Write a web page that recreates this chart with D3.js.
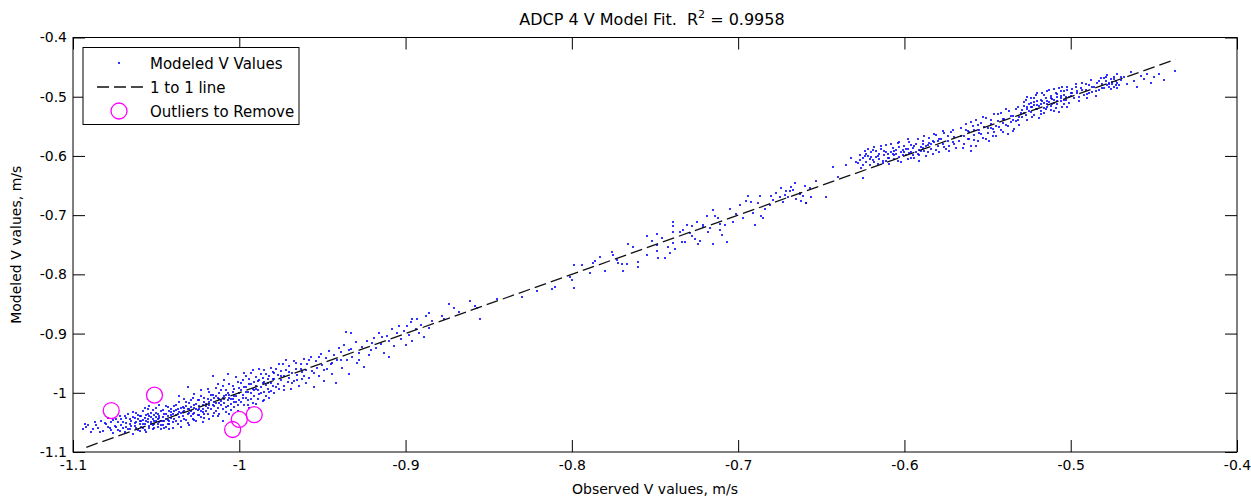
<!DOCTYPE html>
<html><head><meta charset="utf-8">
<script src="https://cdn.jsdelivr.net/npm/d3@7"></script>
<style>body{margin:0;background:#fff}svg{display:block}text{font-family:"DejaVu Sans",sans-serif;fill:#000}</style>
</head><body><svg id="c" width="1251" height="501"></svg>
<script>
const titleText = "ADCP 4 V Model Fit.\u00a0 R";
const titleSup = "2";
const titleTail = " = 0.9958";
const xLabel = "Observed V values, m/s";
const yLabel = "Modeled V values, m/s";
const xTicks = [-1.1,-1,-0.9,-0.8,-0.7,-0.6,-0.5,-0.4];
const yTicks = [-1.1,-1,-0.9,-0.8,-0.7,-0.6,-0.5,-0.4];
const legendLabels = ["Modeled V Values","1 to 1 line","Outliers to Remove"];
const oneToOne = [-1.092,-0.437];
const outliers = [[-1.077,-1.030],[-1.051,-1.004],[-1.000,-1.045],[-1.004,-1.062],[-0.991,-1.037]];
const points = [
[-1.094,-1.061],[-1.091,-1.055],[-1.089,-1.066],[-1.087,-1.050],[-1.085,-1.059],[-1.083,-1.047],[-1.082,-1.064],[-1.080,-1.053],[-1.079,-1.042],[-1.078,-1.060],[-1.077,-1.049],[-1.076,-1.068],[-1.075,-1.056],[-1.093,-1.052],
[-1.074,-1.045],[-1.073,-1.063],[-1.072,-1.039],[-1.071,-1.055],[-1.070,-1.050],[-1.069,-1.067],[-1.068,-1.043],[-1.068,-1.058],[-1.067,-1.036],[-1.066,-1.052],[-1.066,-1.061],[-1.065,-1.047],[-1.064,-1.070],[-1.064,-1.041],[-1.063,-1.056],[-1.062,-1.049],[-1.062,-1.034],[-1.061,-1.063],[-1.061,-1.045],[-1.060,-1.053],[-1.060,-1.039],[-1.059,-1.058],
[-1.059,-1.047],[-1.058,-1.031],[-1.058,-1.060],[-1.057,-1.042],[-1.057,-1.052],[-1.056,-1.037],[-1.056,-1.066],[-1.055,-1.044],[-1.055,-1.028],[-1.054,-1.056],[-1.054,-1.040],[-1.053,-1.049],[-1.053,-1.034],[-1.052,-1.061],[-1.052,-1.045],[-1.051,-1.038],[-1.051,-1.053],[-1.050,-1.025],[-1.050,-1.047],[-1.049,-1.058],[-1.049,-1.036],[-1.048,-1.043],[-1.048,-1.050],[-1.047,-1.030],[-1.047,-1.062],[-1.046,-1.041],[-1.046,-1.054],[-1.045,-1.035],[-1.045,-1.047],[-1.044,-1.022],[-1.044,-1.057],[-1.043,-1.039],[-1.043,-1.046],[-1.042,-1.031],[-1.042,-1.052],[-1.041,-1.043],[-1.041,-1.027],[-1.040,-1.060],[-1.040,-1.036],[-1.053,-1.052],[-1.050,-1.041],[-1.047,-1.048],[-1.044,-1.044],[-1.055,-1.050],[-1.049,-1.045],[-1.046,-1.047],[-1.058,-1.046],[-1.052,-1.055],[-1.043,-1.053],[-1.041,-1.037],
[-1.039,-1.030],[-1.039,-1.045],[-1.038,-1.020],[-1.038,-1.038],[-1.037,-1.052],[-1.037,-1.028],[-1.036,-1.041],[-1.036,-1.015],[-1.035,-1.034],[-1.035,-1.048],[-1.034,-1.024],[-1.034,-1.040],[-1.033,-1.011],[-1.033,-1.031],[-1.032,-1.046],[-1.032,-1.022],[-1.031,-1.036],[-1.031,-1.051],[-1.030,-1.027],[-1.030,-1.017],[-1.029,-1.039],[-1.029,-1.030],[-1.028,-1.008],[-1.028,-1.044],[-1.027,-1.025],[-1.027,-1.034],[-1.026,-1.019],[-1.026,-1.047],[-1.025,-1.029],[-1.025,-1.012],[-1.024,-1.037],[-1.024,-1.022],[-1.023,-1.041],[-1.023,-1.005],[-1.022,-1.027],[-1.022,-1.033],[-1.021,-1.016],[-1.021,-1.043],[-1.020,-1.023],[-1.020,-1.030],[-1.036,-1.033],[-1.033,-1.026],[-1.030,-1.034],[-1.027,-1.021],[-1.024,-1.028],[-1.038,-1.029],[-1.029,-1.024],[-1.022,-1.020],
[-1.019,-1.010],[-1.019,-1.035],[-1.018,-1.020],[-1.018,-0.998],[-1.017,-1.028],[-1.017,-1.013],[-1.016,-1.040],[-1.016,-1.004],[-1.015,-1.022],[-1.015,-1.016],[-1.014,-0.992],[-1.014,-1.031],[-1.013,-1.009],[-1.013,-1.025],[-1.012,-1.001],[-1.012,-1.036],[-1.011,-1.014],[-1.011,-1.020],[-1.010,-0.989],[-1.010,-1.028],[-1.009,-1.006],[-1.009,-1.017],[-1.008,-1.033],[-1.008,-0.996],[-1.007,-1.012],[-1.007,-1.023],[-1.006,-1.003],[-1.006,-0.985],[-1.005,-1.019],[-1.005,-1.029],[-1.004,-0.999],[-1.004,-1.010],[-1.003,-1.024],[-1.003,-0.993],[-1.002,-1.015],[-1.002,-1.006],[-1.001,-0.982],[-1.001,-1.021],[-1.000,-1.001],[-1.000,-1.012],[-1.018,-1.015],[-1.015,-1.008],[-1.012,-1.011],[-1.009,-1.011],[-1.006,-1.009],[-1.003,-1.005],[-1.014,-1.018],[-1.008,-1.004],
[-0.999,-0.995],[-0.999,-1.015],[-0.998,-0.978],[-0.998,-1.004],[-0.997,-1.021],[-0.997,-0.990],[-0.996,-1.009],[-0.996,-0.972],[-0.995,-0.998],[-0.995,-1.012],[-0.994,-0.985],[-0.994,-1.026],[-0.993,-1.001],[-0.993,-0.966],[-0.992,-0.993],[-0.992,-1.017],[-0.991,-0.981],[-0.991,-1.006],[-0.990,-0.988],[-0.990,-0.974],[-0.989,-1.011],[-0.989,-0.996],[-0.988,-0.979],[-0.988,-1.002],[-0.987,-0.969],[-0.987,-0.991],[-0.986,-1.014],[-0.986,-0.984],[-0.985,-0.999],[-0.985,-0.962],[-0.984,-0.987],[-0.984,-1.005],[-0.983,-0.976],[-0.983,-0.993],[-0.982,-1.009],[-0.982,-0.971],[-0.981,-0.983],[-0.981,-0.997],[-0.980,-0.965],[-0.980,-0.989],[-0.996,-0.999],[-0.990,-0.993],[-0.985,-0.981],[-0.993,-0.986],
[-0.979,-0.977],[-0.979,-1.000],[-0.978,-0.959],[-0.977,-0.985],[-0.977,-0.970],[-0.976,-0.993],[-0.975,-0.963],[-0.975,-0.979],[-0.974,-0.951],[-0.973,-0.988],[-0.973,-0.972],[-0.972,-0.961],[-0.971,-0.982],[-0.970,-0.954],[-0.970,-0.975],[-0.969,-0.993],[-0.968,-0.966],[-0.967,-0.947],[-0.967,-0.980],[-0.966,-0.959],[-0.965,-0.970],[-0.964,-0.988],[-0.963,-0.952],[-0.962,-0.965],[-0.962,-0.976],[-0.961,-0.943],[-0.960,-0.961],[-0.960,-0.983],
[-0.959,-0.952],[-0.958,-0.975],[-0.957,-0.940],[-0.956,-0.963],[-0.955,-0.990],[-0.954,-0.946],[-0.953,-0.958],[-0.952,-0.971],[-0.951,-0.934],[-0.950,-0.953],[-0.949,-0.980],[-0.948,-0.942],[-0.947,-0.960],[-0.946,-0.929],[-0.945,-0.951],[-0.944,-0.968],[-0.943,-0.937],[-0.942,-0.984],[-0.941,-0.945],[-0.940,-0.925],
[-0.939,-0.931],[-0.938,-0.958],[-0.937,-0.920],[-0.935,-0.944],[-0.934,-0.968],[-0.933,-0.926],[-0.932,-0.939],[-0.930,-0.915],[-0.929,-0.950],[-0.928,-0.933],[-0.926,-0.922],[-0.925,-0.957],[-0.923,-0.912],[-0.922,-0.936],[-0.921,-0.927],
[-0.936,-0.898],[-0.933,-0.899],[-0.919,-0.908],[-0.918,-0.925],[-0.916,-0.899],[-0.915,-0.917],[-0.913,-0.932],[-0.911,-0.904],[-0.910,-0.912],[-0.908,-0.893],[-0.907,-0.921],[-0.905,-0.899],[-0.904,-0.887],[-0.903,-0.910],[-0.901,-0.896],[-0.900,-0.920],
[-0.899,-0.888],[-0.898,-0.903],[-0.897,-0.880],[-0.896,-0.912],[-0.894,-0.893],[-0.893,-0.876],[-0.892,-0.899],[-0.891,-0.885],[-0.889,-0.905],[-0.888,-0.870],[-0.886,-0.890],[-0.884,-0.878],[-0.910,-0.940],
[-0.896,-0.875],[-0.886,-0.865],[-0.874,-0.850],[-0.871,-0.857],[-0.878,-0.870],[-0.877,-0.876],[-0.861,-0.845],[-0.858,-0.853],[-0.857,-0.857],[-0.855,-0.875],[-0.868,-0.863],[-0.845,-0.842],
[-0.830,-0.839],[-0.821,-0.828],[-0.812,-0.825],[-0.810,-0.822],[-0.799,-0.823],[-0.799,-0.784],[-0.801,-0.804],[-0.800,-0.809],[-0.794,-0.784],[-0.789,-0.797],[-0.787,-0.780],[-0.786,-0.777],[-0.783,-0.771],[-0.780,-0.794],
[-0.776,-0.762],[-0.775,-0.767],[-0.773,-0.776],[-0.772,-0.780],[-0.770,-0.782],[-0.769,-0.795],[-0.766,-0.749],[-0.767,-0.782],[-0.763,-0.754],[-0.760,-0.779],[-0.760,-0.787],[-0.755,-0.735],[-0.755,-0.767],
[-0.749,-0.732],[-0.749,-0.751],[-0.749,-0.760],[-0.748,-0.772],[-0.744,-0.772],[-0.742,-0.753],[-0.739,-0.712],[-0.739,-0.719],[-0.739,-0.729],[-0.739,-0.747],[-0.738,-0.758],[-0.735,-0.729],[-0.734,-0.746],[-0.732,-0.745],[-0.731,-0.717],[-0.728,-0.719],[-0.728,-0.735],[-0.726,-0.741],[-0.723,-0.743],[-0.724,-0.749],
[-0.721,-0.717],[-0.721,-0.720],[-0.719,-0.701],[-0.717,-0.722],[-0.715,-0.691],[-0.715,-0.749],[-0.714,-0.701],[-0.711,-0.725],[-0.711,-0.715],[-0.710,-0.733],[-0.707,-0.745],
[-0.705,-0.690],[-0.703,-0.712],[-0.701,-0.698],[-0.699,-0.683],[-0.697,-0.705],[-0.695,-0.676],
[-0.694,-0.668],[-0.692,-0.677],[-0.687,-0.668],[-0.688,-0.680],[-0.691,-0.696],[-0.690,-0.717],[-0.686,-0.701],[-0.685,-0.704],[-0.680,-0.668],[-0.679,-0.674],[-0.681,-0.683],[-0.674,-0.655],[-0.675,-0.669],[-0.671,-0.659],[-0.672,-0.666],[-0.669,-0.660],[-0.668,-0.652],[-0.666,-0.645],[-0.670,-0.670],[-0.665,-0.673],[-0.663,-0.664],[-0.662,-0.676],[-0.660,-0.650],[-0.659,-0.680],[-0.656,-0.670],[-0.653,-0.643],[-0.647,-0.669],[-0.643,-0.619],[-0.640,-0.635],[-0.635,-0.616],[-0.632,-0.604],[-0.629,-0.611],[-0.625,-0.638],[-0.663,-0.662],[-0.659,-0.679],[-0.622,-0.589],
[-0.628,-0.612],[-0.627,-0.598],[-0.626,-0.620],[-0.625,-0.604],[-0.624,-0.591],[-0.623,-0.611],[-0.622,-0.600],[-0.621,-0.616],[-0.620,-0.594],[-0.619,-0.607],[-0.618,-0.585],[-0.617,-0.602],[-0.616,-0.613],[-0.615,-0.596],[-0.614,-0.589],[-0.613,-0.608],[-0.612,-0.599],[-0.611,-0.582],[-0.610,-0.603],[-0.609,-0.614],[-0.608,-0.593],[-0.607,-0.587],[-0.606,-0.605],[-0.605,-0.597],[-0.604,-0.579],[-0.603,-0.601],[-0.602,-0.611],[-0.601,-0.590],[-0.600,-0.584],[-0.599,-0.598],[-0.598,-0.606],[-0.597,-0.576],[-0.596,-0.593],[-0.595,-0.587],[-0.594,-0.603],[-0.593,-0.580],[-0.592,-0.596],[-0.591,-0.609],[-0.590,-0.585],[-0.589,-0.574],[-0.588,-0.591],[-0.587,-0.600],[-0.586,-0.581],[-0.585,-0.569],[-0.584,-0.588],[-0.583,-0.596],[-0.582,-0.577],[-0.581,-0.565],[-0.580,-0.584],[-0.579,-0.593],[-0.578,-0.571],[-0.577,-0.580],[-0.576,-0.562],[-0.575,-0.589],[-0.574,-0.574],[-0.573,-0.583],[-0.572,-0.560],[-0.571,-0.577],[-0.570,-0.568],[-0.569,-0.586],[-0.620,-0.602],[-0.615,-0.605],[-0.610,-0.597],[-0.605,-0.590],[-0.600,-0.593],[-0.595,-0.599],[-0.590,-0.592],[-0.585,-0.578],[-0.580,-0.575],[-0.612,-0.591],[-0.603,-0.585],[-0.598,-0.588],[-0.593,-0.594],[-0.587,-0.583],[-0.583,-0.574],[-0.607,-0.596],[-0.596,-0.581],[-0.591,-0.590],[-0.624,-0.600],[-0.617,-0.592],
[-0.567,-0.575],[-0.566,-0.553],[-0.565,-0.586],[-0.564,-0.566],[-0.563,-0.546],[-0.562,-0.571],[-0.561,-0.560],[-0.560,-0.583],[-0.559,-0.549],[-0.558,-0.565],[-0.557,-0.539],[-0.556,-0.575],[-0.555,-0.557],[-0.554,-0.544],[-0.553,-0.569],[-0.552,-0.551],[-0.551,-0.536],[-0.550,-0.562],[-0.549,-0.574],[-0.548,-0.546],[-0.547,-0.555],[-0.546,-0.530],[-0.545,-0.566],[-0.544,-0.541],[-0.543,-0.551],[-0.542,-0.527],[-0.541,-0.560],[-0.540,-0.537],[-0.539,-0.548],[-0.538,-0.563],[-0.537,-0.524],[-0.536,-0.543],[-0.535,-0.533],[-0.534,-0.554],[-0.533,-0.520],[-0.532,-0.539],[-0.531,-0.547],[-0.530,-0.528],[-0.562,-0.558],[-0.555,-0.562],[-0.548,-0.552],[-0.541,-0.545],[-0.535,-0.540],[-0.558,-0.573],[-0.546,-0.559],[-0.560,-0.591],
[-0.529,-0.534],[-0.528,-0.515],[-0.528,-0.528],[-0.527,-0.506],[-0.526,-0.521],[-0.526,-0.540],[-0.525,-0.512],[-0.524,-0.525],[-0.524,-0.503],[-0.523,-0.518],[-0.522,-0.531],[-0.522,-0.509],[-0.521,-0.497],[-0.520,-0.520],[-0.520,-0.514],[-0.519,-0.536],[-0.518,-0.505],[-0.518,-0.524],[-0.517,-0.494],[-0.516,-0.511],[-0.516,-0.528],[-0.515,-0.502],[-0.514,-0.517],[-0.514,-0.490],[-0.513,-0.509],[-0.512,-0.522],[-0.512,-0.499],[-0.511,-0.513],[-0.510,-0.487],[-0.510,-0.505],[-0.509,-0.519],[-0.508,-0.496],[-0.508,-0.508],[-0.507,-0.525],[-0.506,-0.491],[-0.506,-0.502],[-0.505,-0.484],[-0.504,-0.513],[-0.504,-0.497],[-0.503,-0.506],[-0.502,-0.489],[-0.502,-0.518],[-0.501,-0.500],[-0.500,-0.493],[-0.526,-0.517],[-0.522,-0.514],[-0.518,-0.512],[-0.514,-0.507],[-0.510,-0.510],[-0.506,-0.499],[-0.520,-0.508],[-0.516,-0.519],[-0.512,-0.503],[-0.508,-0.501],[-0.504,-0.505],[-0.524,-0.511],
[-0.499,-0.487],[-0.498,-0.503],[-0.497,-0.479],[-0.496,-0.494],[-0.495,-0.508],[-0.494,-0.485],[-0.493,-0.476],[-0.492,-0.497],[-0.491,-0.488],[-0.490,-0.503],[-0.489,-0.481],[-0.488,-0.472],[-0.487,-0.492],[-0.486,-0.484],[-0.485,-0.498],[-0.484,-0.477],[-0.483,-0.489],[-0.482,-0.469],[-0.496,-0.490],[-0.490,-0.495],
[-0.481,-0.478],[-0.480,-0.468],[-0.480,-0.485],[-0.479,-0.473],[-0.478,-0.481],[-0.478,-0.464],[-0.477,-0.476],[-0.476,-0.487],[-0.476,-0.470],[-0.475,-0.479],[-0.474,-0.466],[-0.474,-0.483],[-0.473,-0.474],[-0.472,-0.477],[-0.472,-0.462],[-0.471,-0.481],[-0.470,-0.471],[-0.477,-0.479],[-0.475,-0.475],[-0.473,-0.480],
[-0.468,-0.467],[-0.466,-0.478],[-0.464,-0.459],[-0.462,-0.473],[-0.460,-0.483],[-0.458,-0.465],[-0.456,-0.470],[-0.454,-0.461],[-0.452,-0.476],[-0.450,-0.466],[-0.447,-0.462],[-0.444,-0.471],[-0.437,-0.456],
[-1.092,-1.058],[-1.088,-1.062],[-1.086,-1.054],[-1.084,-1.066],[-1.081,-1.051],[-1.079,-1.057],[-1.077,-1.063],[-1.076,-1.046],[-1.074,-1.058],[-1.073,-1.050],[-1.072,-1.064],[-1.071,-1.044],[-1.070,-1.059],[-1.069,-1.040],[-1.068,-1.051],[-1.067,-1.062],[-1.066,-1.044],[-1.065,-1.056],[-1.064,-1.033],[-1.063,-1.051],[-1.063,-1.043],[-1.062,-1.060],[-1.061,-1.038],[-1.060,-1.047],[-1.060,-1.064],
[-1.059,-1.040],[-1.058,-1.053],[-1.057,-1.026],[-1.057,-1.063],[-1.056,-1.048],[-1.055,-1.035],[-1.054,-1.060],[-1.054,-1.022],[-1.053,-1.041],[-1.052,-1.029],[-1.051,-1.059],[-1.051,-1.047],[-1.050,-1.034],[-1.049,-1.052],[-1.048,-1.021],[-1.048,-1.039],[-1.047,-1.055],[-1.046,-1.029],[-1.045,-1.060],[-1.044,-1.036],[-1.043,-1.024],[-1.042,-1.048],[-1.042,-1.062],[-1.041,-1.033],[-1.040,-1.050],
[-1.039,-1.022],[-1.038,-1.047],[-1.037,-1.035],[-1.036,-1.006],[-1.035,-1.025],[-1.035,-1.058],[-1.034,-1.032],[-1.033,-1.044],[-1.032,-1.015],[-1.031,-0.990],[-1.031,-1.027],[-1.030,-1.054],[-1.029,-1.012],[-1.028,-1.036],[-1.027,-1.002],[-1.027,-1.046],[-1.026,-1.028],[-1.025,-1.038],[-1.024,-1.013],[-1.023,-0.996],[-1.023,-1.030],[-1.022,-1.050],[-1.021,-1.008],[-1.021,-1.036],[-1.020,-1.019],
[-1.019,-0.993],[-1.019,-1.026],[-1.018,-1.045],[-1.017,-1.003],[-1.016,-0.972],[-1.016,-1.021],[-1.015,-1.034],[-1.014,-1.005],[-1.013,-0.985],[-1.013,-1.040],[-1.012,-1.018],[-1.011,-0.996],[-1.010,-1.008],[-1.010,-1.047],[-1.009,-0.978],[-1.008,-1.024],[-1.007,-1.000],[-1.007,-0.968],[-1.006,-1.036],[-1.005,-1.011],[-1.004,-0.988],[-1.003,-1.016],[-1.002,-0.974],[-1.001,-1.030],[-1.000,-0.992],
[-0.999,-0.983],[-0.998,-1.009],[-0.997,-0.966],[-0.996,-0.991],[-0.995,-1.020],[-0.994,-0.976],[-0.993,-1.010],[-0.992,-0.961],[-0.991,-0.995],[-0.990,-1.019],[-0.989,-0.980],[-0.988,-0.959],[-0.987,-1.000],[-0.986,-0.975],[-0.985,-1.012],[-0.984,-0.968],[-0.983,-0.984],[-0.982,-0.998],[-0.981,-0.958],[-0.980,-0.977],
[-0.979,-0.966],[-0.978,-0.990],[-0.976,-0.952],[-0.975,-0.972],[-0.973,-0.996],[-0.972,-0.945],[-0.970,-0.965],[-0.968,-0.984],[-0.966,-0.950],[-0.965,-0.978],[-0.963,-0.960],[-0.961,-0.971],
[-0.958,-0.944],[-0.955,-0.966],[-0.952,-0.939],[-0.949,-0.962],[-0.944,-0.950],[-0.939,-0.944],[-0.934,-0.928],[-0.928,-0.945],[-0.920,-0.916],[-0.914,-0.906],
[-0.752,-0.743],[-0.746,-0.738],[-0.741,-0.764],[-0.733,-0.725],[-0.729,-0.731],[-0.725,-0.712],[-0.718,-0.728],[-0.712,-0.705],[-0.708,-0.717],[-0.684,-0.690],[-0.677,-0.662],[-0.673,-0.678],[-0.667,-0.658],[-0.661,-0.667],[-0.657,-0.655],
[-0.627,-0.607],[-0.625,-0.615],[-0.623,-0.596],[-0.621,-0.605],[-0.619,-0.590],[-0.618,-0.611],[-0.616,-0.600],[-0.614,-0.583],[-0.613,-0.612],[-0.611,-0.594],[-0.609,-0.604],[-0.608,-0.580],[-0.606,-0.598],[-0.604,-0.609],[-0.603,-0.576],[-0.601,-0.599],[-0.599,-0.588],[-0.598,-0.572],[-0.596,-0.604],[-0.594,-0.583],[-0.592,-0.571],[-0.591,-0.598],[-0.589,-0.587],[-0.588,-0.566],[-0.586,-0.594],[-0.584,-0.580],[-0.582,-0.563],[-0.581,-0.590],[-0.579,-0.572],[-0.577,-0.558],[-0.576,-0.585],[-0.574,-0.566],[-0.573,-0.591],[-0.571,-0.556],[-0.570,-0.580],[-0.606,-0.591],[-0.597,-0.595],[-0.589,-0.580],[-0.611,-0.608],[-0.602,-0.594],
[-0.566,-0.566],[-0.564,-0.580],[-0.563,-0.556],[-0.561,-0.571],[-0.560,-0.543],[-0.558,-0.556],[-0.557,-0.584],[-0.556,-0.548],[-0.554,-0.563],[-0.553,-0.535],[-0.551,-0.572],[-0.550,-0.552],[-0.548,-0.540],[-0.547,-0.566],[-0.545,-0.549],[-0.544,-0.529],[-0.542,-0.557],[-0.541,-0.538],[-0.539,-0.521],[-0.538,-0.550],[-0.536,-0.532],[-0.535,-0.558],[-0.533,-0.541],[-0.532,-0.518],[-0.531,-0.535],
[-0.529,-0.522],[-0.528,-0.509],[-0.527,-0.531],[-0.526,-0.500],[-0.525,-0.524],[-0.524,-0.517],[-0.523,-0.534],[-0.522,-0.503],[-0.521,-0.521],[-0.520,-0.494],[-0.519,-0.515],[-0.518,-0.530],[-0.517,-0.507],[-0.516,-0.497],[-0.515,-0.520],[-0.514,-0.512],[-0.513,-0.489],[-0.512,-0.515],[-0.511,-0.504],[-0.510,-0.524],[-0.509,-0.493],[-0.508,-0.512],[-0.507,-0.486],[-0.506,-0.508],[-0.505,-0.517],[-0.504,-0.490],[-0.503,-0.500],[-0.502,-0.483],[-0.501,-0.511],[-0.500,-0.498],
[-0.499,-0.494],[-0.497,-0.484],[-0.495,-0.500],[-0.493,-0.489],[-0.491,-0.478],[-0.489,-0.494],[-0.487,-0.483],[-0.485,-0.490],[-0.483,-0.474],[-0.481,-0.485],[-0.479,-0.467],[-0.477,-0.484],[-0.474,-0.470],[-0.472,-0.486],[-0.470,-0.466]
];

const svg = d3.select("#c");
const L = 73, R = 1237, T = 37.5, B = 452;
const x = d3.scaleLinear().domain([-1.1,-0.4]).range([L,R]);
const y = d3.scaleLinear().domain([-1.1,-0.4]).range([B,T]);
const tick = 12;
const fmt = d => String(+d.toFixed(1));

svg.append("rect").attr("x",0).attr("y",0).attr("width",1251).attr("height",501).attr("fill","#fff");

// data points
svg.append("g").selectAll("rect").data(points).join("rect")
  .attr("x",d=>Math.round(x(d[0]))-1).attr("y",d=>Math.round(y(d[1]))-1)
  .attr("width",2).attr("height",2).attr("fill","#0000ff").attr("opacity",0.8);

// 1 to 1 line
svg.append("line").attr("x1",x(oneToOne[0])).attr("y1",y(oneToOne[0]))
  .attr("x2",x(oneToOne[1])).attr("y2",y(oneToOne[1]))
  .attr("stroke","#111").attr("stroke-width",1.3).attr("stroke-dasharray","12,5");

// outliers
svg.append("g").selectAll("circle").data(outliers).join("circle")
  .attr("cx",d=>x(d[0])).attr("cy",d=>y(d[1])).attr("r",8)
  .attr("fill","none").attr("stroke","#ff00ff").attr("stroke-width",1.3);

// axes
const axB = d3.axisBottom(x).tickValues(xTicks).tickSize(-tick).tickPadding(8).tickFormat(fmt);
const axT = d3.axisTop(x).tickValues(xTicks).tickSize(-tick).tickFormat("");
const axLft = d3.axisLeft(y).tickValues(yTicks).tickSize(-tick).tickPadding(6).tickFormat(fmt);
const axRt = d3.axisRight(y).tickValues(yTicks).tickSize(-tick).tickFormat("");
function style(g){g.select(".domain").remove();g.selectAll("line").attr("stroke","#000");g.selectAll("text").attr("font-family","DejaVu Sans").attr("font-size",14).attr("fill","#000");}
svg.append("g").attr("transform",`translate(0,${B})`).call(axB).call(style);
svg.append("g").attr("transform",`translate(0,${T})`).call(axT).call(style);
svg.append("g").attr("transform",`translate(${L},0)`).call(axLft).call(style);
svg.append("g").attr("transform",`translate(${R},0)`).call(axRt).call(style);
svg.append("rect").attr("x",L).attr("y",T).attr("width",R-L).attr("height",B-T)
  .attr("fill","none").attr("stroke","#000").attr("stroke-width",1);

// title
const t = svg.append("text").attr("x",(L+R)/2-3).attr("y",25).attr("text-anchor","middle").attr("font-size",16);
t.append("tspan").text(titleText);
t.append("tspan").attr("dy",-7).attr("font-size",11).text(titleSup);
t.append("tspan").attr("dy",7).text(titleTail);

svg.append("text").attr("x",(L+R)/2).attr("y",494).attr("text-anchor","middle").attr("font-size",14).text(xLabel);
svg.append("text").attr("transform",`translate(21,${(T+B)/2}) rotate(-90)`).attr("text-anchor","middle").attr("font-size",14).text(yLabel);

// legend
const lg = svg.append("g");
lg.append("rect").attr("x",83).attr("y",47.5).attr("width",216).attr("height",77)
  .attr("fill","#fff").attr("stroke","#000").attr("stroke-width",1);
const rows = [63,87,111];
lg.append("rect").attr("x",118).attr("y",rows[0]-1).attr("width",2).attr("height",2).attr("fill","#0000ff").attr("opacity",0.8);
lg.append("line").attr("x1",97).attr("x2",145).attr("y1",rows[1]).attr("y2",rows[1])
  .attr("stroke","#111").attr("stroke-width",1.3).attr("stroke-dasharray","12,5");
lg.append("circle").attr("cx",119).attr("cy",rows[2]).attr("r",8).attr("fill","none").attr("stroke","#ff00ff").attr("stroke-width",1.3);
lg.selectAll("text.l").data(legendLabels).join("text").attr("class","l")
  .attr("x",150).attr("y",(d,i)=>rows[i]+5.5).attr("font-size",15).text(d=>d);
</script></body></html>
